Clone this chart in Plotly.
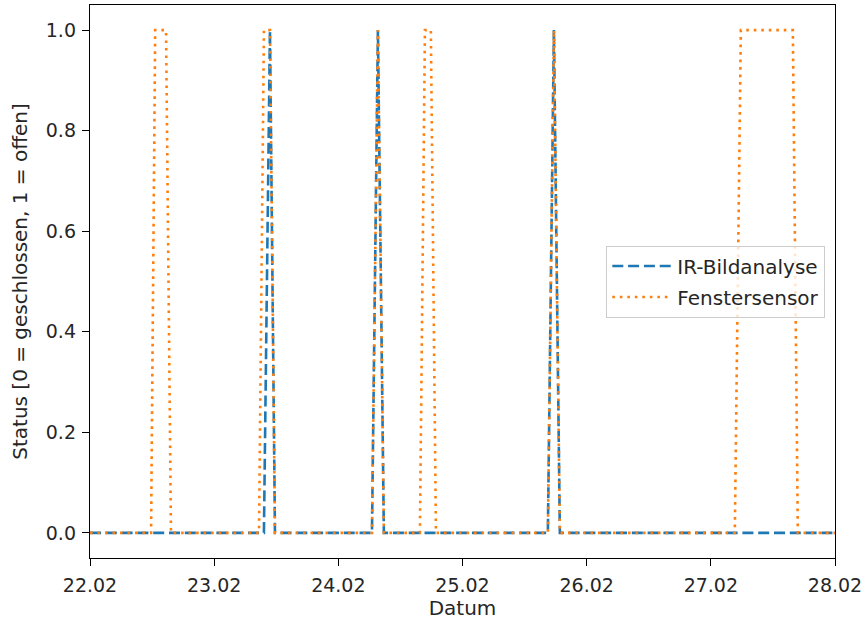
import plotly.graph_objects as go

# Fenstersensor (window contact sensor) samples
sensor_time = [
    "2023-02-22 00:00", "2023-02-22 11:48", "2023-02-22 12:36", "2023-02-22 14:42", "2023-02-22 15:39",
    "2023-02-23 08:40", "2023-02-23 09:37", "2023-02-23 10:47", "2023-02-23 11:45",
    "2023-02-24 06:30", "2023-02-24 07:39", "2023-02-24 08:48",
    "2023-02-24 15:46", "2023-02-24 16:44", "2023-02-24 17:53", "2023-02-24 18:52",
    "2023-02-25 16:30", "2023-02-25 17:40", "2023-02-25 18:49",
    "2023-02-27 04:38", "2023-02-27 05:48", "2023-02-27 15:51", "2023-02-27 16:49",
    "2023-02-28 00:00",
]
sensor_status = [
    0, 0, 1, 1, 0,
    0, 1, 1, 0,
    0, 1, 0,
    0, 1, 1, 0,
    0, 1, 0,
    0, 1, 1, 0,
    0,
]

# IR-Bildanalyse samples
ir_time = [
    "2023-02-22 00:00",
    "2023-02-23 09:37", "2023-02-23 10:47", "2023-02-23 11:45",
    "2023-02-24 06:30", "2023-02-24 07:39", "2023-02-24 08:48",
    "2023-02-25 16:30", "2023-02-25 17:40", "2023-02-25 18:49",
    "2023-02-28 00:00",
]
ir_status = [
    0,
    0, 1, 0,
    0, 1, 0,
    0, 1, 0,
    0,
]

y_ticks = [0.0, 0.2, 0.4, 0.6, 0.8, 1.0]
y_tick_labels = ["0.0", "0.2", "0.4", "0.6", "0.8", "1.0"]

FONT = "DejaVu Sans"
TXT = "#262626"

fig = go.Figure()
fig.add_trace(go.Scatter(
    x=ir_time, y=ir_status, mode="lines", name="IR-Bildanalyse", legendgroup="ir",
    line=dict(color="#1f77b4", width=2.6, dash="11px,4.8px"),
))
fig.add_trace(go.Scatter(
    x=sensor_time, y=sensor_status, mode="lines", name="Fenstersensor", legendgroup="sensor",
    line=dict(color="#ff7f0e", width=2.6, dash="2.6px,4.9px"),
))

axis_common = dict(
    showline=True, linecolor="black", linewidth=1.4, mirror=True,
    ticks="outside", ticklen=7, tickwidth=1.4, tickcolor="black",
    showgrid=False, zeroline=False, automargin=False,
    tickfont=dict(family=FONT, size=19, color=TXT),
)

fig.update_layout(
    width=864, height=620,
    margin=dict(l=90, r=29, t=5, b=62, autoexpand=False),
    paper_bgcolor="white", plot_bgcolor="white",
    font=dict(family=FONT, size=20, color=TXT),
    showlegend=True,
    legend=dict(
        x=0.987, xanchor="right", y=0.5, yanchor="middle",
        bgcolor="rgba(255,255,255,0.8)", bordercolor="#cccccc", borderwidth=1,
        font=dict(family=FONT, size=20, color=TXT),
        tracegroupgap=2, itemwidth=60,
    ),
)
fig.update_xaxes(
    range=["2023-02-22", "2023-02-28"], tickformat="%d.%m", dtick=86400000,
    tick0="2023-02-22", ticklabelstandoff=3,
    title=dict(text="Datum", font=dict(family=FONT, size=20, color=TXT), standoff=8),
    **axis_common,
)
fig.update_yaxes(
    range=[-0.05, 1.05], tickvals=y_ticks, ticktext=y_tick_labels,
    ticklabelstandoff=2,
    title=dict(text="Status [0 = geschlossen, 1 = offen]", font=dict(family=FONT, size=20, color=TXT), standoff=12),
    **axis_common,
)

fig.write_html(
    "out.html",
    config={"displayModeBar": False},
    post_script="document.body.style.margin='0px';document.body.style.overflow='hidden';",
)
